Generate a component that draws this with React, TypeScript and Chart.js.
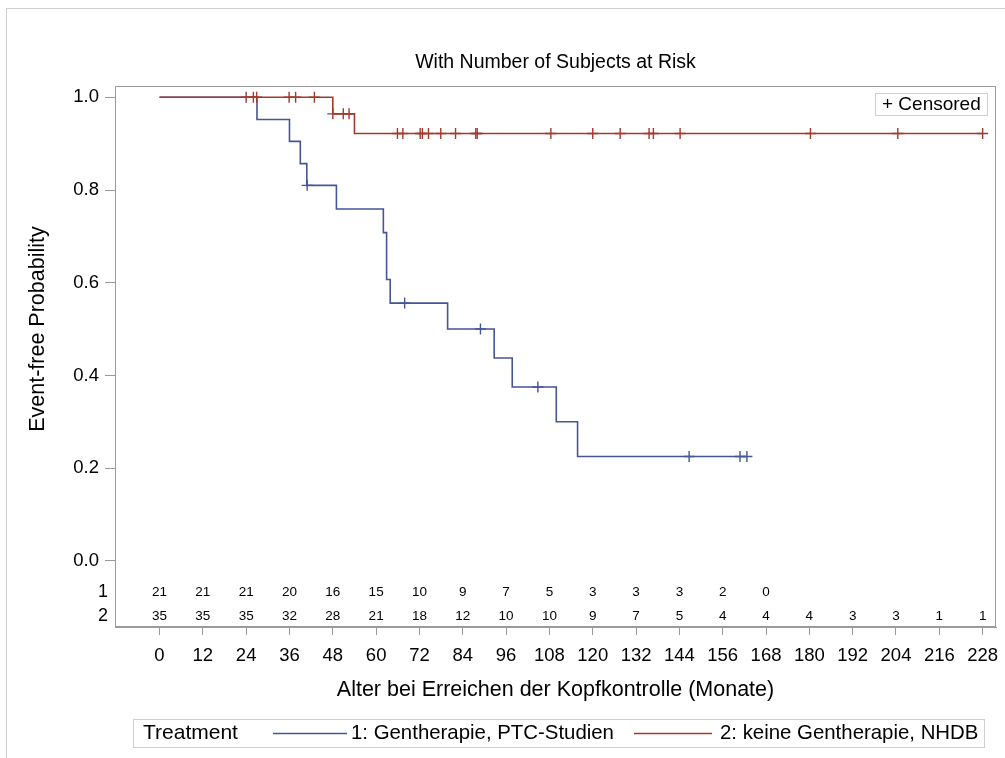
import { useEffect, useRef } from "react";
import { Chart, registerables } from "chart.js";

Chart.register(...registerables);

const FONT = '"Liberation Sans", Arial, sans-serif';
const BLUE = "#445694";
const RED = "#A23A2E";
const AXIS = "#9a9a9a";
const LIGHT = "#cfcfcf";

const titleText = "With Number of Subjects at Risk";
const xTitle = "Alter bei Erreichen der Kopfkontrolle (Monate)";
const yTitle = "Event-free Probability";
const legendTitle = "Treatment";
const group1Label = "1: Gentherapie, PTC-Studien";
const group2Label = "2: keine Gentherapie, NHDB";

const xTicks = [0, 12, 24, 36, 48, 60, 72, 84, 96, 108, 120, 132, 144, 156, 168, 180, 192, 204, 216, 228];
const yTicks = [0, 0.2, 0.4, 0.6, 0.8, 1.0];

// Group 1: Gentherapie, PTC-Studien (Kaplan-Meier steps)
const g1Times = [0, 27, 36, 39, 40.8, 49, 62, 62.9, 63.9, 79.8, 92.7, 97.7, 109.9, 115.8, 162.7];
const g1Survival = [1, 0.952, 0.905, 0.857, 0.81, 0.759, 0.708, 0.607, 0.556, 0.5, 0.4375, 0.375, 0.3, 0.225, 0.225];
const g1Censored = [40.9, 67.9, 88.9, 104.8, 146.7, 160.8, 162.7];

// Group 2: keine Gentherapie, NHDB
const g2Times = [0, 48, 54, 228];
const g2Survival = [1, 0.9643, 0.922, 0.922];
const g2Censored = [24, 26, 26.9, 35.9, 37.7, 42.9, 48, 50.9, 52.5, 65.9, 67.4, 72.2, 72.8, 74.5, 77.9, 82, 87.6, 88, 108.4, 120, 127.6, 135.6, 136.8, 144.2, 180.3, 204.5, 228];

// Number of subjects at risk
const riskTimes = xTicks;
const risk1 = [21, 21, 21, 20, 16, 15, 10, 9, 7, 5, 3, 3, 3, 2, 0];
const risk2 = [35, 35, 35, 32, 28, 21, 18, 12, 10, 10, 9, 7, 5, 4, 4, 4, 3, 3, 1, 1];

const stepLevel = (times: number[], surv: number[], t: number) => {
  let v = surv[0];
  times.forEach((tt, i) => {
    if (tt <= t) v = surv[i];
  });
  return v;
};

const decorPlugin = {
  id: "decor",
  afterDraw(chart: any) {
    const { ctx, chartArea: a, scales } = chart;
    const xs = scales.x;
    const ys = scales.y;
    ctx.save();
    // plot frame
    ctx.strokeStyle = AXIS;
    ctx.lineWidth = 1;
    ctx.strokeRect(a.left + 0.5, a.top + 0.5, a.right - a.left - 1, a.bottom - a.top - 1);

    ctx.fillStyle = "#000";
    ctx.textBaseline = "middle";

    // title
    ctx.font = `19.5px ${FONT}`;
    ctx.textAlign = "center";
    ctx.fillText(titleText, (a.left + a.right) / 2, 63);

    // x title
    ctx.font = `21.5px ${FONT}`;
    ctx.fillText(xTitle, (a.left + a.right) / 2, 690);

    // y title
    ctx.save();
    ctx.translate(38, ys.getPixelForValue(0.5));
    ctx.rotate(-Math.PI / 2);
    ctx.fillText(yTitle, 0, 0);
    ctx.restore();

    // at-risk table
    const row1Y = ys.getPixelForValue(-0.068);
    const row2Y = ys.getPixelForValue(-0.119);
    ctx.font = `18px ${FONT}`;
    ctx.textAlign = "right";
    ctx.fillText("1", 108, row1Y);
    ctx.fillText("2", 108, row2Y);
    ctx.font = `13.5px ${FONT}`;
    ctx.textAlign = "center";
    risk1.forEach((n, i) => ctx.fillText(String(n), xs.getPixelForValue(riskTimes[i]), row1Y));
    risk2.forEach((n, i) => ctx.fillText(String(n), xs.getPixelForValue(riskTimes[i]), row2Y));

    // censored inset legend
    ctx.strokeStyle = LIGHT;
    ctx.strokeRect(875.5, 93.5, 112, 22);
    ctx.font = `19px ${FONT}`;
    ctx.textAlign = "left";
    ctx.fillText("+ Censored", 882, 104.5);

    // bottom legend
    ctx.strokeRect(133.5, 719.5, 851, 28);
    ctx.font = `21px ${FONT}`;
    ctx.fillText(legendTitle, 143, 733.5);
    ctx.lineWidth = 1.5;
    ctx.strokeStyle = BLUE;
    ctx.beginPath();
    ctx.moveTo(273, 733.5);
    ctx.lineTo(347, 733.5);
    ctx.stroke();
    ctx.strokeStyle = RED;
    ctx.beginPath();
    ctx.moveTo(634, 733.5);
    ctx.lineTo(712, 733.5);
    ctx.stroke();
    ctx.font = `20.4px ${FONT}`;
    ctx.fillText(group1Label, 351, 733.5);
    ctx.fillText(group2Label, 720, 733.5);

    ctx.restore();
  },
};

export default function App() {
  const canvasRef = useRef<HTMLCanvasElement | null>(null);

  useEffect(() => {
    const canvas = canvasRef.current;
    if (!canvas) return;

    const line = (times: number[], surv: number[]) => times.map((t, i) => ({ x: t, y: surv[i] }));
    const cens = (c: number[], times: number[], surv: number[]) =>
      c.map((t) => ({ x: t, y: stepLevel(times, surv, t) }));

    const chart = new Chart(canvas, {
      type: "line",
      data: {
        datasets: [
          {
            label: group2Label,
            data: line(g2Times, g2Survival),
            stepped: "before",
            borderColor: RED,
            borderWidth: 1.6,
            pointRadius: 0,
            fill: false,
            order: 1,
          },
          {
            label: "cens2",
            data: cens(g2Censored, g2Times, g2Survival),
            showLine: false,
            pointStyle: "cross",
            pointRadius: 5.5,
            pointBorderWidth: 1.4,
            pointBorderColor: RED,
            borderColor: RED,
            order: 0,
          },
          {
            label: group1Label,
            data: line(g1Times, g1Survival),
            stepped: "before",
            borderColor: BLUE,
            borderWidth: 1.6,
            pointRadius: 0,
            fill: false,
            order: 3,
          },
          {
            label: "cens1",
            data: cens(g1Censored, g1Times, g1Survival),
            showLine: false,
            pointStyle: "cross",
            pointRadius: 5.5,
            pointBorderWidth: 1.4,
            pointBorderColor: BLUE,
            borderColor: BLUE,
            order: 2,
          },
        ] as any,
      },
      options: {
        animation: false,
        responsive: false,
        events: [],
        layout: { padding: { left: 0, top: 86, right: 9, bottom: 71 } },
        plugins: {
          legend: { display: false },
          title: { display: false },
          tooltip: { enabled: false },
        },
        scales: {
          x: {
            type: "linear",
            min: -12.33,
            max: 231.7,
            afterBuildTicks: (s: any) => {
              s.ticks = xTicks.map((v) => ({ value: v }));
            },
            afterFit: (s: any) => {
              s.height = 60;
              s.paddingLeft = 0;
              s.paddingRight = 0;
            },
            ticks: {
              autoSkip: false,
              maxRotation: 0,
              color: "#000",
              padding: 10,
              font: { family: FONT, size: 18.5 },
              callback: (v: any) => String(v),
            },
            grid: { drawOnChartArea: false, drawTicks: true, tickLength: 8, color: AXIS },
            border: { display: true, color: AXIS, width: 1 },
          },
          y: {
            type: "linear",
            min: -0.1428,
            max: 1.0244,
            afterBuildTicks: (s: any) => {
              s.ticks = yTicks.map((v) => ({ value: v }));
            },
            afterFit: (s: any) => {
              s.width = 115;
              s.paddingTop = 0;
              s.paddingBottom = 0;
            },
            ticks: {
              color: "#000",
              padding: 6,
              font: { family: FONT, size: 18.5 },
              callback: (v: any) => Number(v).toFixed(1),
            },
            grid: { drawOnChartArea: false, drawTicks: true, tickLength: 10, color: AXIS },
            border: { display: true, color: AXIS, width: 1 },
          },
        },
      } as any,
      plugins: [decorPlugin],
    });

    return () => chart.destroy();
  }, []);

  return (
    <>
      <div
        style={{
          position: "fixed",
          left: 6,
          top: 8,
          width: 1100,
          height: 900,
          borderLeft: `1px solid ${LIGHT}`,
          borderTop: `1px solid ${LIGHT}`,
          boxSizing: "border-box",
        }}
      />
      <canvas
        ref={canvasRef}
        width={1005}
        height={758}
        style={{ position: "fixed", left: 0, top: 0, width: 1005, height: 758 }}
      />
    </>
  );
}
